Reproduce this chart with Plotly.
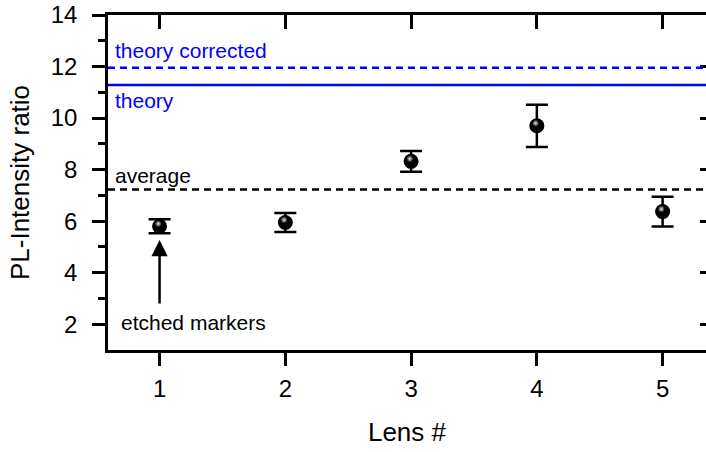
import plotly.graph_objects as go

lens = [1, 2, 3, 4, 5]
ratio = [5.8, 5.95, 8.32, 9.7, 6.37]
ratio_err = [0.27, 0.37, 0.4, 0.82, 0.58]

average_val = 7.23
theory_val = 11.28
theory_corr_val = 11.95

x_ticks = [1, 2, 3, 4, 5]
y_ticks = [2, 4, 6, 8, 10, 12, 14]

XR = [0.59, 5.345]
YR = [1, 14]
FONT = "Liberation Sans, Arial, sans-serif"
BLUE = "#0000ff"

fig = go.Figure()

# main data with error bars
fig.add_trace(go.Scatter(
    x=lens, y=ratio, mode="markers",
    marker=dict(size=15, color="black", line=dict(width=0)),
    error_y=dict(type="data", array=ratio_err, visible=True,
                 color="black", thickness=2.5, width=11),
    showlegend=False, hoverinfo="x+y"))

# highlight on spheres (slightly offset via shifted overlay axes)
fig.add_trace(go.Scatter(
    x=lens, y=ratio, mode="markers", xaxis="x3", yaxis="y3",
    marker=dict(size=7, color="black", line=dict(width=0),
                gradient=dict(type="radial", color="#f0f0f0")),
    showlegend=False, hoverinfo="skip"))

# invisible traces to anchor mirror axes
fig.add_trace(go.Scatter(x=[None], y=[None], xaxis="x2", yaxis="y2",
                         showlegend=False, hoverinfo="skip"))

# reference lines
for val, col, dash in [(average_val, "black", "7px,5px"),
                       (theory_val, BLUE, "solid"),
                       (theory_corr_val, BLUE, "7px,5px")]:
    fig.add_shape(type="line", xref="x domain", yref="y", x0=0, x1=1,
                  y0=val, y1=val, line=dict(color=col, width=2.5, dash=dash))

ann_font = dict(family=FONT, size=21)
fig.add_annotation(x=0.63, y=12.62, xref="x", yref="y", text="theory corrected",
                   showarrow=False, xanchor="left", yanchor="middle",
                   font=dict(ann_font, color=BLUE))
fig.add_annotation(x=0.63, y=10.68, xref="x", yref="y", text="theory",
                   showarrow=False, xanchor="left", yanchor="middle",
                   font=dict(ann_font, color=BLUE))
fig.add_annotation(x=0.63, y=7.78, xref="x", yref="y", text="average",
                   showarrow=False, xanchor="left", yanchor="middle",
                   font=dict(ann_font, color="black"))
fig.add_annotation(x=1.27, y=2.05, xref="x", yref="y", text="etched markers",
                   showarrow=False, xanchor="center", yanchor="middle",
                   font=dict(ann_font, color="black"))
# arrow
fig.add_annotation(x=1, y=5.27, ax=1, ay=2.75, xref="x", yref="y",
                   axref="x", ayref="y", text="", showarrow=True,
                   arrowhead=2, arrowsize=1.3, arrowwidth=2.5, arrowcolor="black")

tick_font = dict(family=FONT, size=24, color="black")

fig.update_layout(
    width=706, height=452,
    margin=dict(l=108, r=0, t=15, b=102),
    plot_bgcolor="white", paper_bgcolor="white",
    font=dict(family=FONT, color="black"),
    xaxis=dict(range=XR, tickvals=x_ticks, ticktext=[str(v) for v in x_ticks],
               ticks="outside", ticklen=13, tickwidth=2.5, tickcolor="black",
               showline=True, linewidth=2.5, linecolor="black",
               showgrid=False, zeroline=False, tickfont=tick_font,
               ticklabelstandoff=2,
               title=dict(text="Lens #", font=dict(family=FONT, size=26),
                          standoff=23)),
    yaxis=dict(range=YR, tickvals=y_ticks, ticktext=[str(v) for v in y_ticks],
               ticks="outside", ticklen=13, tickwidth=2.5, tickcolor="black",
               minor=dict(tickvals=[3, 5, 7, 9, 11, 13], ticks="outside",
                          ticklen=7, tickwidth=2.5, tickcolor="black"),
               showline=True, linewidth=2.5, linecolor="black",
               showgrid=False, zeroline=False, tickfont=tick_font,
               ticklabelstandoff=10,
               title=dict(text="PL-Intensity ratio", font=dict(family=FONT, size=26),
                          standoff=14)),
    xaxis2=dict(range=XR, overlaying="x", side="top", anchor="y2",
                tickvals=x_ticks, ticks="inside", ticklen=14, tickwidth=2.5,
                tickcolor="black", showticklabels=False, showline=True,
                linewidth=2.5, linecolor="black", showgrid=False, zeroline=False),
    yaxis2=dict(range=YR, overlaying="y", side="right", anchor="x2",
                tickvals=y_ticks, ticks="inside", ticklen=6, tickwidth=2.5,
                tickcolor="black", showticklabels=False, showline=False,
                showgrid=False, zeroline=False),
    xaxis3=dict(range=[XR[0] + 0.01, XR[1] + 0.01], overlaying="x", visible=False),
    yaxis3=dict(range=[YR[0] - 0.1, YR[1] - 0.1], overlaying="y", visible=False),
)

fig.write_html("out.html")
